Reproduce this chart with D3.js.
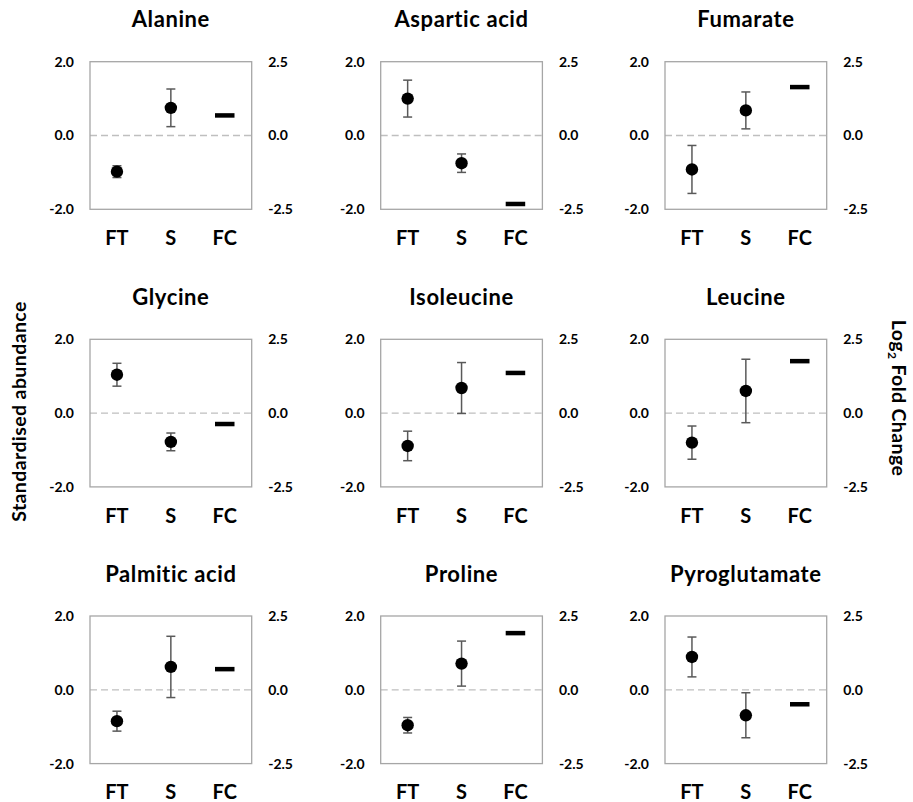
<!DOCTYPE html>
<html>
<head>
<meta charset="utf-8">
<script src="https://cdn.jsdelivr.net/npm/d3@7/dist/d3.min.js"></script>
<style>
  html, body { margin: 0; padding: 0; background: #fff; }
  svg { display: block; }
  text { font-family: Lato, "Open Sans", sans-serif; font-weight: bold; fill: #000; }
</style>
</head>
<body>
<svg id="chart" width="913" height="802"></svg>
<script>
// ---- Data ----
const metabolites = ["Alanine", "Aspartic acid", "Fumarate",
                     "Glycine", "Isoleucine", "Leucine",
                     "Palmitic acid", "Proline", "Pyroglutamate"];
const groups = ["FT", "S", "FC"];
// Standardised abundance (left axis): mean and error
const ftMean = [-0.98, 1.00, -0.92, 1.04, -0.89, -0.80, -0.85, -0.96, 0.89];
const ftErr  = [0.16, 0.50, 0.65, 0.31, 0.40, 0.45, 0.27, 0.21, 0.54];
const sMean  = [0.75, -0.75, 0.68, -0.78, 0.68, 0.60, 0.62, 0.71, -0.69];
const sErr   = [0.51, 0.25, 0.50, 0.24, 0.69, 0.86, 0.83, 0.61, 0.61];
// Log2 fold change (right axis)
const fcLog2 = [0.68, -2.32, 1.64, -0.37, 1.36, 1.76, 0.70, 1.92, -0.49];
const leftTicks = [-2, 0, 2];
const rightTicks = [-2.5, 0, 2.5];
const leftDomain = [-2, 2];
const rightDomain = [-2.5, 2.5];

// ---- Layout ----
const colLeft = [90, 380.7, 665];
const rowTop = [61.7, 339.3, 616];
const frameW = 161.7, frameH = 147.6;

const svg = d3.select("#chart");

const x = d3.scalePoint().domain(groups).range([0, frameW]).padding(0.5);
const yL = d3.scaleLinear().domain(leftDomain).range([frameH, 0]);
const yR = d3.scaleLinear().domain(rightDomain).range([frameH, 0]);
const fmt = d => d.toFixed(1);

metabolites.forEach((name, i) => {
  const col = i % 3, row = Math.floor(i / 3);
  const g = svg.append("g").attr("transform", `translate(${colLeft[col]},${rowTop[row]})`);

  // title
  g.append("text")
    .attr("x", frameW / 2).attr("y", -34.4)
    .attr("text-anchor", "middle")
    .style("font-size", "22px")
    .style("letter-spacing", "0.6px")
    .text(name);

  // dashed zero line
  g.append("line")
    .attr("x1", 0).attr("x2", frameW)
    .attr("y1", yL(0)).attr("y2", yL(0))
    .attr("stroke", "#bfbfbf").attr("stroke-width", 1.3)
    .attr("stroke-dasharray", "7,4");

  // frame
  g.append("rect")
    .attr("x", 0).attr("y", 0).attr("width", frameW).attr("height", frameH)
    .attr("fill", "none").attr("stroke", "#a6a6a6").attr("stroke-width", 1.3);

  // left axis
  const la = g.append("g").call(d3.axisLeft(yL).tickValues(leftTicks).tickSize(0).tickPadding(16).tickFormat(fmt));
  la.select(".domain").remove();
  la.selectAll("text").style("font-size", "14px").style("font-family", "Lato, sans-serif").style("font-weight", "bold");

  // right axis
  const ra = g.append("g").attr("transform", `translate(${frameW},0)`)
    .call(d3.axisRight(yR).tickValues(rightTicks).tickSize(0).tickPadding(16.5).tickFormat(fmt));
  ra.select(".domain").remove();
  ra.selectAll("text").style("font-size", "14px").style("font-family", "Lato, sans-serif").style("font-weight", "bold");

  // x labels
  g.selectAll(".xl").data(groups).enter().append("text")
    .attr("class", "xl")
    .attr("x", d => x(d)).attr("y", frameH + 35.7)
    .attr("text-anchor", "middle")
    .style("font-size", "20px")
    .text(d => d);

  // points with error bars
  const pts = [
    { grp: "FT", mean: ftMean[i], err: ftErr[i] },
    { grp: "S", mean: sMean[i], err: sErr[i] }
  ];
  const capW = 9;
  pts.forEach(p => {
    const cx = x(p.grp);
    const eb = g.append("g").attr("stroke", "#595959").attr("stroke-width", 1.5);
    eb.append("line").attr("x1", cx).attr("x2", cx)
      .attr("y1", yL(p.mean + p.err)).attr("y2", yL(p.mean - p.err));
    eb.append("line").attr("x1", cx - capW / 2).attr("x2", cx + capW / 2)
      .attr("y1", yL(p.mean + p.err)).attr("y2", yL(p.mean + p.err));
    eb.append("line").attr("x1", cx - capW / 2).attr("x2", cx + capW / 2)
      .attr("y1", yL(p.mean - p.err)).attr("y2", yL(p.mean - p.err));
    g.append("circle").attr("cx", cx).attr("cy", yL(p.mean)).attr("r", 6.2).attr("fill", "#000");
  });

  // fold change dash
  const bw = 19.5, bh = 4.5;
  g.append("rect")
    .attr("x", x("FC") - bw / 2).attr("y", yR(fcLog2[i]) - bh / 2)
    .attr("width", bw).attr("height", bh).attr("fill", "#000");
});

// axis titles
svg.append("text")
  .attr("transform", "translate(25.5,411.5) rotate(-90)")
  .attr("text-anchor", "middle")
  .style("font-size", "19.5px")
  .style("letter-spacing", "0.4px")
  .text("Standardised abundance");

const rt = svg.append("text")
  .attr("transform", "translate(892,398) rotate(90)")
  .attr("text-anchor", "middle")
  .style("font-size", "19.5px")
  .style("letter-spacing", "0.4px");
rt.append("tspan").text("Log");
rt.append("tspan").attr("dy", 4).style("font-size", "12px").text("2");
rt.append("tspan").attr("dy", -4).text(" Fold Change");
</script>
</body>
</html>
